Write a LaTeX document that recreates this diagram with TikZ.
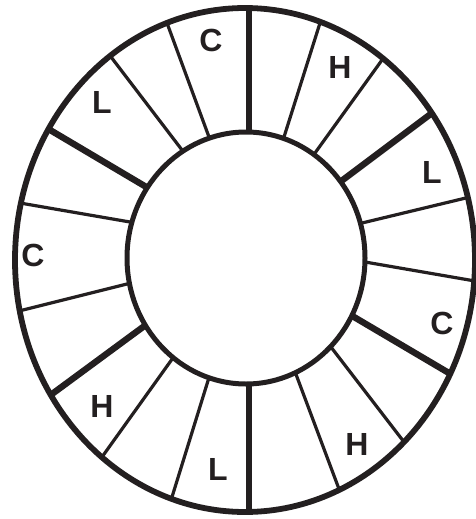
\documentclass[tikz,border=0pt]{standalone}
\usepackage{fontspec}
\setmainfont{Liberation Sans}
\definecolor{inkc}{HTML}{231F20}
\begin{document}
\begin{tikzpicture}[x=1pt,y=-1pt,
    rim/.style={draw=inkc, line width=5.8pt},
    thinspoke/.style={draw=inkc, line width=3.2pt, shorten <=-8pt, shorten >=-8pt},
    wall/.style={draw=inkc, line width=6.4pt, shorten <=-8pt, shorten >=-8pt},
    lab/.style={font=\bfseries\fontsize{32}{32}\selectfont, text=inkc, inner sep=0pt},
  ]
    \useasboundingbox (0,0) rectangle (475,519);

    % spokes, cut at the outer rim
    \begin{scope}
      \clip (245,260) ellipse [x radius=230pt, y radius=252pt];
      \foreach \xa/\ya/\xb/\yb in {209/137/167/23, 182/150/108/53, 130/222/20/203,
          127/284/19/311, 170/362/102/457, 207/384/172/497,
          297/377/339/489, 334/351/404/442, 365/262/475/281,
          362/223/470/197, 315/153/382/60, 284/137/320/23}
        \draw[thinspoke] (\xa,\ya) -- (\xb,\yb);
      \foreach \xa/\ya/\xb/\yb in {249/133/249/8, 148/188/45/127, 143/327/52/394,
          249/384/249/511, 354/317/454/376, 340/182/432/113}
        \draw[wall] (\xa,\ya) -- (\xb,\yb);
    \end{scope}

    % rims
    \filldraw[rim, fill=white, line width=5pt] (246,258) ellipse [x radius=119pt, y radius=126pt];
    \draw[rim] (245,260) ellipse [x radius=230pt, y radius=252pt];

    % labels
    \node[lab] (c1) at (211,40) {C};
    \node[lab] (h1) at (340,67) {H};
    \node[lab] (l1) at (432,172) {L};
    \node[lab] (c2) at (442,323) {C};
    \node[lab] (h2) at (357,444) {H};
    \node[lab] (l2) at (218,469) {L};
    \node[lab] (h3) at (102,406) {H};
    \node[lab] (c3) at (33,255) {C};
    \node[lab] (l3) at (102,102) {L};
\end{tikzpicture}
\end{document}
